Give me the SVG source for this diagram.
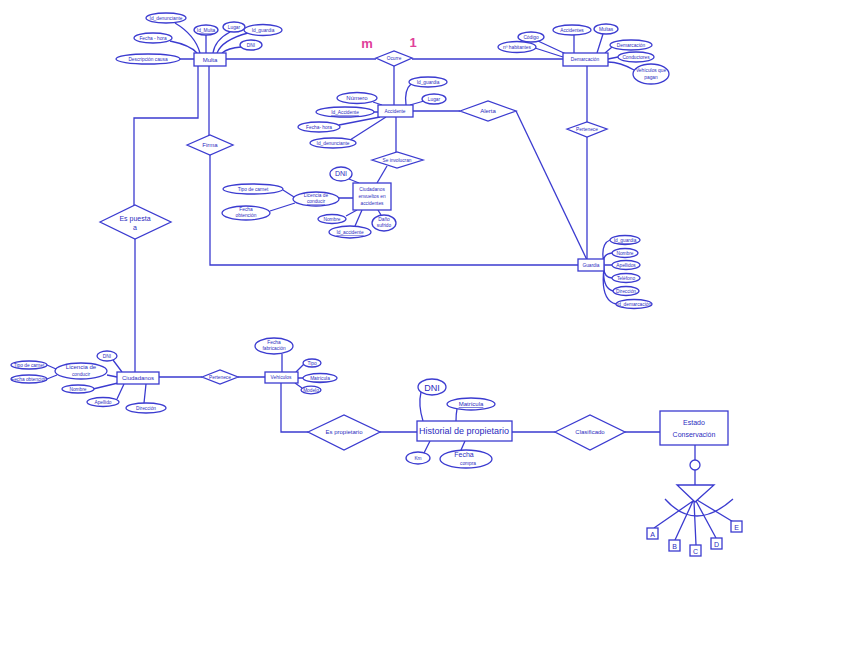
<svg xmlns="http://www.w3.org/2000/svg" width="848" height="655" viewBox="0 0 848 655">
<style>
.bg{fill:#ffffff}
.l{fill:none;stroke:#3b3bd0;stroke-width:1.3}
.e{fill:#ffffff;stroke:#3b3bd0;stroke-width:1.3}
.r{fill:#ffffff;stroke:#3b3bd0;stroke-width:1.3}
.d{fill:#ffffff;stroke:#3b3bd0;stroke-width:1.3}
text{font-family:"Liberation Sans",Arial,sans-serif;fill:#2c2cc0;text-anchor:middle}
.s{font-size:4.8px}
.m{font-size:6px}
.b{font-size:7px}
.g{font-size:9px}
.u{text-decoration:underline}
.pk{fill:#e0409a;font-size:13px;font-weight:bold}
</style>
<rect class="bg" x="0" y="0" width="848" height="655"/>
<g id="connectors">
<path class="l" d="M226,59 H376 M412,59 H563"/>
<path class="l" d="M394,66 V105"/>
<path class="l" d="M413,111 H460"/>
<path class="l" d="M516,111 L587,260"/>
<path class="l" d="M396,117 V152"/>
<path class="l" d="M387,166 L377,183"/>
<path class="l" d="M587,66 V122 M587,137 V259"/>
<path class="l" d="M209,66 V135 M210,155 V265 H578"/>
<path class="l" d="M198,66 V118 H134 V205 M135,239 V372"/>
<path class="l" d="M159,377 H202 M238,377 H265"/>
<path class="l" d="M281,383 V432 H308 M380,432 H417"/>
<path class="l" d="M512,432 H555 M625,432 H660"/>
<path class="l" d="M695,445 V460 M695,470 V485"/>
<path class="l" d="M665,499 Q695,533 733,499"/>
<path class="l" d="M693,501 L654,528 M693,501 L675,540 M694,501 L696,545 M696,501 L716,538 M697,500 L735,523"/>
<path class="l" d="M175,23 Q195,35 200,53 M206,35 V53 M230,32 Q215,40 213,53 M248,33 Q222,40 217,53 M241,47 Q228,48 222,53 M170,41 Q190,45 197,53 M180,59 H194"/>
<path class="l" d="M373,102 L382,105 M374,112 H378 M339,125 L380,117 M350,140 L386,117 M411,84 Q404,90 406,105 M424,101 L410,105"/>
<path class="l" d="M538,41 L566,54 M535,48 L563,57 M574,35 V53 M603,34 L597,53 M612,47 L605,53 M618,57 L608,59 M634,70 Q620,62 608,62"/>
<path class="l" d="M604,264 Q600,244 610,240 M604,264 Q602,254 612,253 M604,265 H612 M604,266 Q603,277 612,278 M604,267 Q602,288 613,291 M604,268 Q600,300 616,304"/>
<path class="l" d="M349,179 L359,183 M339,198 H353 M283,190 L294,197 M270,211 L295,203 M346,216 L357,210 M355,226 L362,210 M381,215 L378,210"/>
<path class="l" d="M113,360 L122,372 M107,375 L117,377 M47,365 L56,369 M47,379 L57,375 M93,389 L118,383 M117,399 L124,384 M144,403 L146,384"/>
<path class="l" d="M282,354 V372 M304,364 L296,372 M303,378 H298 M302,388 L295,383"/>
<path class="l" d="M421,392 Q418,405 423,421 M457,409 Q456,414 456,421 M424,453 L430,441 M461,450 L465,441"/>
</g>
<text class="pk" x="367" y="48">m</text>
<text class="pk" x="413" y="47">1</text>
<g id="multa">
<rect class="r" x="194" y="53" width="32" height="13"/>
<text class="m" x="210" y="62">Multa</text>
</g>
<g id="multa-attrs">
<ellipse class="e" cx="166" cy="18" rx="20" ry="5"/><text class="s" x="166" y="20">Id_denunciante</text>
<ellipse class="e" cx="206" cy="30" rx="12" ry="5"/><text class="s u" x="206" y="32">Id_Multa</text>
<ellipse class="e" cx="234" cy="27" rx="11" ry="5"/><text class="s" x="234" y="29">Lugar</text>
<ellipse class="e" cx="263" cy="30" rx="19" ry="5.5"/><text class="s" x="263" y="32">Id_guardia</text>
<ellipse class="e" cx="251" cy="45" rx="11" ry="5"/><text class="s" x="251" y="47">DNI</text>
<ellipse class="e" cx="153" cy="38" rx="19" ry="5"/><text class="s" x="153" y="40">Fecha - hora</text>
<ellipse class="e" cx="148" cy="59" rx="32" ry="5"/><text class="s" x="148" y="61">Descripción causa</text>
</g>
<g id="ocurre">
<polygon class="d" points="376,58 394,51 412,58 394,66"/>
<text class="s" x="394" y="60">Ocurre</text>
</g>
<g id="demarcacion">
<rect class="r" x="563" y="53" width="45" height="13"/>
<text class="s" x="585" y="61">Demarcación</text>
</g>
<g id="demarcacion-attrs">
<ellipse class="e" cx="531" cy="37" rx="13" ry="5"/><text class="s" x="531" y="39">Código</text>
<ellipse class="e" cx="517" cy="47" rx="19" ry="5.5"/><text class="s" x="517" y="49">nº habitantes</text>
<ellipse class="e" cx="572" cy="30" rx="19" ry="5"/><text class="s" x="572" y="32">Accidentes</text>
<ellipse class="e" cx="606" cy="29" rx="12" ry="5"/><text class="s" x="606" y="31">Multas</text>
<ellipse class="e" cx="631" cy="45" rx="21" ry="5"/><text class="s" x="631" y="47">Demarcación</text>
<ellipse class="e" cx="636" cy="57" rx="18" ry="5"/><text class="s" x="636" y="59">Conductores</text>
<ellipse class="e" cx="651" cy="74" rx="18" ry="10"/><text class="s" x="651" y="72">Vehículos que</text><text class="s" x="651" y="79">pagan</text>
</g>
<g id="accidente">
<rect class="r" x="378" y="105" width="35" height="12"/>
<text class="s" x="395" y="113">Accidente</text>
</g>
<g id="accidente-attrs">
<ellipse class="e" cx="357" cy="98" rx="20" ry="5.5"/><text class="m" x="357" y="100">Número</text>
<ellipse class="e" cx="345" cy="112" rx="29" ry="5"/><text class="s u" x="345" y="114">Id_Accidente</text>
<ellipse class="e" cx="319" cy="127" rx="21" ry="5"/><text class="s" x="319" y="129">Fecha- hora</text>
<ellipse class="e" cx="333" cy="143" rx="23" ry="5"/><text class="s" x="333" y="145">Id_denunciante</text>
<ellipse class="e" cx="428" cy="82" rx="19" ry="5"/><text class="s" x="428" y="84">Id_guardia</text>
<ellipse class="e" cx="434" cy="99" rx="12" ry="5"/><text class="s" x="434" y="101">Lugar</text>
</g>
<g id="alerta">
<polygon class="d" points="460,111 488,101 516,111 488,121"/>
<text class="m" x="488" y="113">Alerta</text>
</g>
<g id="pertenece-demarcacion">
<polygon class="d" points="567,129 587,122 607,129 587,137"/>
<text class="s" x="587" y="131">Pertenece</text>
</g>
<g id="se-involucran">
<polygon class="d" points="372,160 397,152 423,160 397,168"/>
<text class="s" x="397" y="162">Se involucran</text>
</g>
<g id="firma">
<polygon class="d" points="187,145 210,135 233,145 210,155"/>
<text class="m" x="210" y="147">Firma</text>
</g>
<g id="es-puesta-a">
<polygon class="d" points="100,222 135,205 171,222 135,239"/>
<text class="b" x="135" y="221">Es puesta</text>
<text class="b" x="135" y="230">a</text>
</g>
<g id="ciudadanos-envueltos">
<rect class="r" x="353" y="183" width="38" height="27"/>
<text class="s" x="372" y="191">Ciudadanos</text>
<text class="s" x="372" y="198">envueltos en</text>
<text class="s" x="372" y="205">accidentes</text>
</g>
<g id="ciudadanos-envueltos-attrs">
<ellipse class="e" cx="341" cy="174" rx="11" ry="7"/><text class="b" x="341" y="176">DNI</text>
<ellipse class="e" cx="316" cy="199" rx="23" ry="7"/><text class="s" x="316" y="197">Licencia de</text><text class="s u" x="316" y="203">conducir</text>
<ellipse class="e" cx="253" cy="189" rx="30" ry="5"/><text class="s" x="253" y="191">Tipo de carnet</text>
<ellipse class="e" cx="246" cy="213" rx="24" ry="7"/><text class="s" x="246" y="211">Fecha</text><text class="s" x="246" y="217">obtención</text>
<ellipse class="e" cx="332" cy="219" rx="14" ry="4.5"/><text class="s" x="332" y="221">Nombre</text>
<ellipse class="e" cx="350" cy="232" rx="21" ry="6"/><text class="s u" x="350" y="234">Id_accidente</text>
<ellipse class="e" cx="384" cy="223" rx="12" ry="8"/><text class="s" x="384" y="221">Daño</text><text class="s" x="384" y="227">sufrido</text>
</g>
<g id="guardia">
<rect class="r" x="578" y="259" width="26" height="12"/>
<text class="s" x="591" y="267">Guardia</text>
</g>
<g id="guardia-attrs">
<ellipse class="e" cx="625" cy="240" rx="15" ry="4.5"/><text class="s u" x="625" y="242">Id_guardia</text>
<ellipse class="e" cx="625" cy="253" rx="13" ry="4.5"/><text class="s" x="625" y="255">Nombre</text>
<ellipse class="e" cx="626" cy="265" rx="14" ry="4.5"/><text class="s" x="626" y="267">Apellidos</text>
<ellipse class="e" cx="626" cy="278" rx="14" ry="4.5"/><text class="s" x="626" y="280">Teléfono</text>
<ellipse class="e" cx="626" cy="291" rx="13" ry="4.5"/><text class="s" x="626" y="293">Dirección</text>
<ellipse class="e" cx="634" cy="304" rx="18" ry="4.5"/><text class="s" x="634" y="306">Id_demarcación</text>
</g>
<g id="ciudadanos">
<rect class="r" x="117" y="372" width="42" height="12"/>
<text class="m" x="138" y="380">Ciudadanos</text>
</g>
<g id="ciudadanos-attrs">
<ellipse class="e" cx="107" cy="356" rx="10" ry="5"/><text class="s" x="107" y="358">DNI</text>
<ellipse class="e" cx="81" cy="371" rx="26" ry="8"/><text class="m" x="81" y="369">Licencia de</text><text class="s" x="81" y="376">conducir</text>
<ellipse class="e" cx="29" cy="365" rx="18" ry="4"/><text class="s" x="29" y="367">Tipo de carnet</text>
<ellipse class="e" cx="29" cy="379" rx="18" ry="4"/><text class="s" x="29" y="381">Fecha obtención</text>
<ellipse class="e" cx="78" cy="389" rx="16" ry="4"/><text class="s" x="78" y="391">Nombre</text>
<ellipse class="e" cx="103" cy="402" rx="16" ry="4.5"/><text class="s" x="103" y="404">Apellido</text>
<ellipse class="e" cx="146" cy="408" rx="20" ry="5"/><text class="s" x="146" y="410">Dirección</text>
</g>
<g id="pertenece-vehiculos">
<polygon class="d" points="202,377 220,370 238,377 220,384"/>
<text class="s" x="220" y="379">Pertenece</text>
</g>
<g id="vehiculos">
<rect class="r" x="265" y="372" width="33" height="11"/>
<text class="s" x="281" y="379">Vehículos</text>
</g>
<g id="vehiculos-attrs">
<ellipse class="e" cx="274" cy="346" rx="19" ry="8"/><text class="s" x="274" y="344">Fecha</text><text class="s" x="274" y="350">fabricación</text>
<ellipse class="e" cx="312" cy="363" rx="9" ry="4"/><text class="s" x="312" y="365">Tipo</text>
<ellipse class="e" cx="320" cy="378" rx="17" ry="4.5"/><text class="s u" x="320" y="380">Matrícula</text>
<ellipse class="e" cx="311" cy="390" rx="10" ry="3.8"/><text class="s" x="311" y="392">Modelo</text>
</g>
<g id="es-propietario">
<polygon class="d" points="308,432 344,415 380,432 344,450"/>
<text class="m" x="344" y="434">Es propietario</text>
</g>
<g id="historial">
<rect class="r" x="417" y="421" width="95" height="20"/>
<text class="g" x="464" y="434">Historial de propietario</text>
</g>
<g id="historial-attrs">
<ellipse class="e" cx="432" cy="387" rx="14" ry="8"/><text class="g" x="432" y="391">DNI</text>
<ellipse class="e" cx="471" cy="404" rx="24" ry="6"/><text class="m u" x="471" y="406">Matrícula</text>
<ellipse class="e" cx="418" cy="458" rx="12" ry="6"/><text class="s" x="418" y="460">Km</text>
<ellipse class="e" cx="466" cy="459" rx="26" ry="9"/><text class="b" x="464" y="457">Fecha</text><text class="s" x="468" y="465">compra</text>
</g>
<g id="clasificado">
<polygon class="d" points="555,432 590,415 625,432 590,450"/>
<text class="m" x="590" y="434">Clasificado</text>
</g>
<g id="estado-conservacion">
<rect class="r" x="660" y="411" width="68" height="34"/>
<text class="b" x="694" y="425">Estado</text>
<text class="b" x="694" y="437">Conservación</text>
</g>
<g id="especializacion">
<circle class="e" cx="695" cy="465" r="5"/>
<polygon class="d" points="677,485 714,485 695,502"/>
</g>
<g id="sub-a"><rect class="r" x="647" y="528" width="11" height="11"/><text class="b" x="652.5" y="536.5">A</text></g>
<g id="sub-b"><rect class="r" x="669" y="540" width="11" height="11"/><text class="b" x="674.5" y="548.5">B</text></g>
<g id="sub-c"><rect class="r" x="690" y="545" width="11" height="11"/><text class="b" x="695.5" y="553.5">C</text></g>
<g id="sub-d"><rect class="r" x="711" y="538" width="11" height="11"/><text class="b" x="716.5" y="546.5">D</text></g>
<g id="sub-e"><rect class="r" x="731" y="521" width="11" height="11"/><text class="b" x="736.5" y="529.5">E</text></g>
</svg>
